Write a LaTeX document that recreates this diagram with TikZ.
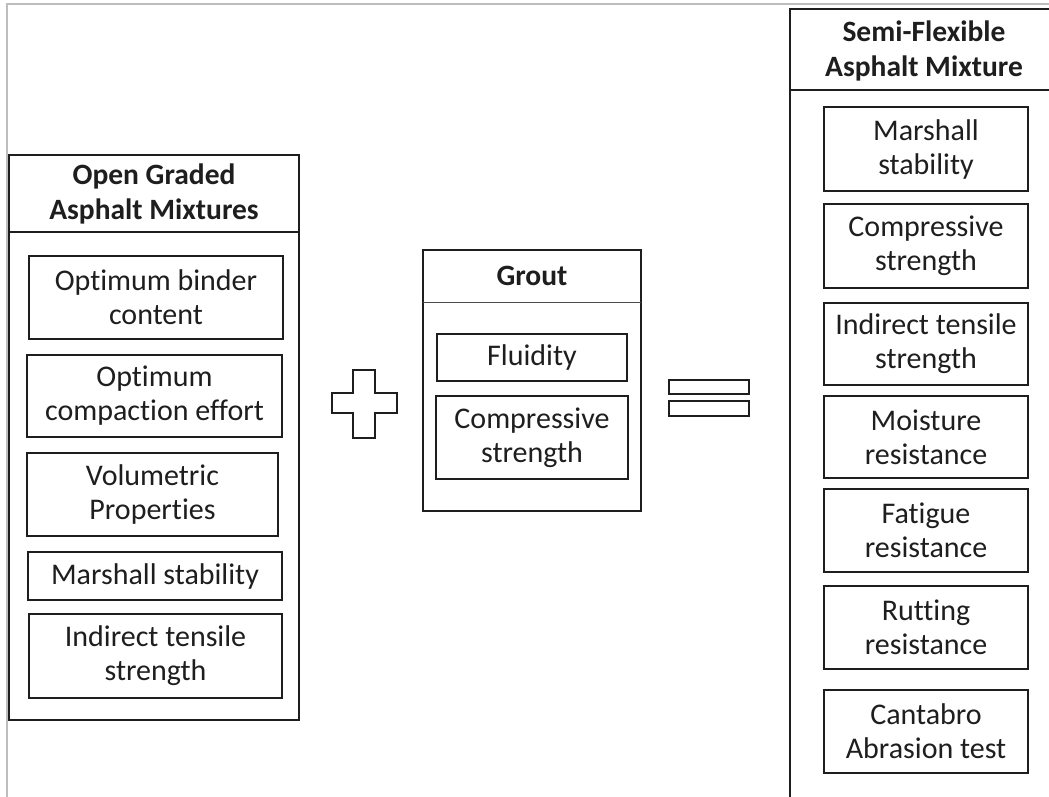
\documentclass[tikz,border=0pt]{standalone}
\usepackage{fontspec}
\setmainfont{Carlito}[Ligatures={NoCommon}]
\definecolor{ink}{HTML}{1E1E1E}
\definecolor{framegray}{HTML}{BDBDBD}
\tikzset{
  outerbox/.style={draw=ink, line width=1.8pt, inner sep=0pt},
  itembox/.style={draw=ink, line width=1.8pt, inner sep=0pt, align=center, text=ink,
    font=\fontsize{30}{34}\selectfont},
  headtext/.style={inner sep=0pt, align=center, text=ink, font=\fontsize{29.5}{35}\selectfont\bfseries},
  divider/.style={draw=ink, line width=1.8pt},
  thindivider/.style={draw=ink!80, line width=0.9pt},
  symbolbox/.style={draw=ink, line width=1.8pt, inner sep=0pt},
}
\begin{document}
\begin{tikzpicture}[x=1pt,y=-1pt]
\clip (0,0) rectangle (1049,796);
\fill[white] (0,0) rectangle (1049,796);
% page frame
\draw[framegray, line width=1.5pt] (7,800) -- (7,4) -- (1060,4);

% Left: Open Graded Asphalt Mixtures
\node[outerbox, minimum width=290pt, minimum height=565pt] (L) at (154,437.5) {};
\node[headtext] (Lh) at (154,194) {Open Graded\\Asphalt Mixtures};
\draw[divider] (9,232) -- (299,232);
\node[itembox, minimum width=254pt, minimum height=83pt] (L1) at (156,297.5) {Optimum binder\\content};
\node[itembox, minimum width=255pt, minimum height=82pt] (L2) at (154.5,396) {Optimum\\compaction effort};
\node[itembox, minimum width=251pt, minimum height=83pt] (L3) at (152.5,494.5) {Volumetric\\Properties};
\node[itembox, minimum width=254pt, minimum height=48pt] (L4) at (155,576) {Marshall stability};
\node[itembox, minimum width=253pt, minimum height=84pt] (L5) at (155.5,656) {Indirect tensile\\strength};

% Plus sign
\draw[ink, line width=1.8pt] (353,370) -- (375,370) -- (375,393) -- (397,393) -- (397,413) -- (375,413)
  -- (375,438) -- (353,438) -- (353,413) -- (332,413) -- (332,393) -- (353,393) -- cycle;

% Grout
\node[outerbox, minimum width=218pt, minimum height=261pt] (G) at (532,380.5) {};
\node[headtext] (Gh) at (532,276) {Grout};
\draw[thindivider] (423,302) -- (641,302);
\node[itembox, minimum width=190pt, minimum height=47pt] (G1) at (532,357.5) {Fluidity};
\node[itembox, minimum width=192pt, minimum height=83pt] (G2) at (532,437.5) {Compressive\\strength};

% Equals sign
\node[symbolbox, minimum width=80pt, minimum height=14pt] (E1) at (709,387) {};
\node[symbolbox, minimum width=80pt, minimum height=15pt] (E2) at (709,408.5) {};

% Right: Semi-Flexible Asphalt Mixture
\draw[divider] (790,800) -- (790,9) -- (1060,9);
\node[headtext] (Rh) at (924,51) {Semi-Flexible\\Asphalt Mixture};
\draw[divider] (790,90) -- (1060,90);
\node[itembox, minimum width=204pt, minimum height=84pt] (R1) at (926,149) {Marshall\\stability};
\node[itembox, minimum width=204pt, minimum height=84pt] (R2) at (926,246) {Compressive\\strength};
\node[itembox, minimum width=204pt, minimum height=82pt] (R3) at (926,344) {Indirect tensile\\strength};
\node[itembox, minimum width=204pt, minimum height=82pt] (R4) at (926,437) {Moisture\\resistance};
\node[itembox, minimum width=204pt, minimum height=83pt] (R5) at (926,530.5) {Fatigue\\resistance};
\node[itembox, minimum width=204pt, minimum height=83pt] (R6) at (926,627.5) {Rutting\\resistance};
\node[itembox, minimum width=204pt, minimum height=83pt] (R7) at (926,731.5) {Cantabro\\Abrasion test};
\end{tikzpicture}
\end{document}
